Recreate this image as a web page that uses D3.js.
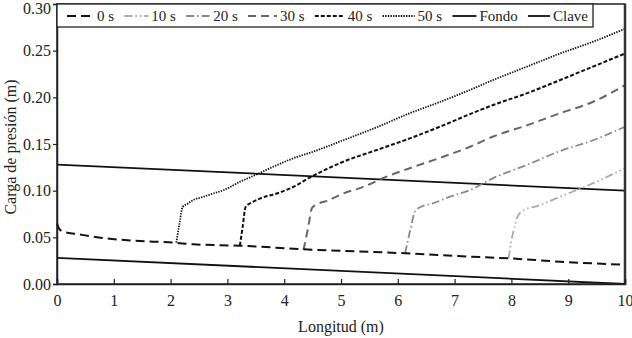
<!DOCTYPE html>
<html>
<head>
<meta charset="utf-8">
<script src="https://cdnjs.cloudflare.com/ajax/libs/d3/7.8.5/d3.min.js"></script>
<style>
  body { margin: 0; background: #fff; }
  text { font-family: "Liberation Serif", serif; fill: #222; }
</style>
</head>
<body>
<div id="chart"></div>
<script>
// values (x in m, y in m)
var seriesNames = ['0 s', '10 s', '20 s', '30 s', '40 s', '50 s', 'Fondo', 'Clave'];

var x0s = [0, 0.04, 0.11, 0.35, 0.76, 1.34, 2.05, 2.40, 3.22, 4.34, 6.13, 7.27, 7.94, 8.86, 10];
var y0s = [0.065, 0.059, 0.056, 0.0536, 0.0496, 0.0464, 0.0443, 0.0425, 0.041, 0.0372, 0.0329, 0.0293, 0.0275, 0.0239, 0.0206];

var x10s = [7.95, 8.03, 8.13, 8.25, 8.45, 8.86, 9.44, 10.0];
var y10s = [0.0275, 0.055, 0.0745, 0.080, 0.0835, 0.0936, 0.108, 0.124];

var x20s = [6.13, 6.22, 6.31, 6.42, 6.6, 6.92, 7.27, 7.68, 8.27, 8.86, 9.44, 10.0];
var y20s = [0.0329, 0.058, 0.0785, 0.083, 0.086, 0.0936, 0.1007, 0.1135, 0.1275, 0.1425, 0.154, 0.1685];

var x30s = [4.34, 4.42, 4.49, 4.58, 4.75, 5.04, 5.39, 5.80, 6.21, 6.80, 7.27, 7.68, 8.27, 8.86, 9.44, 10.0];
var y30s = [0.0364, 0.06, 0.0815, 0.0855, 0.089, 0.097, 0.104, 0.115, 0.124, 0.1364, 0.147, 0.158, 0.170, 0.183, 0.1953, 0.213];

var x40s = [3.22, 3.27, 3.32, 3.42, 3.57, 3.87, 4.16, 4.45, 5.04, 5.63, 6.21, 6.80, 7.27, 7.68, 8.27, 8.86, 9.44, 10.0];
var y40s = [0.041, 0.062, 0.0825, 0.087, 0.0915, 0.097, 0.104, 0.114, 0.131, 0.1436, 0.156, 0.170, 0.182, 0.1918, 0.2043, 0.2186, 0.233, 0.247];

var x50s = [2.10, 2.16, 2.21, 2.30, 2.40, 2.58, 2.75, 2.93, 3.05, 3.22, 3.40, 3.57, 3.81, 4.16, 4.52, 5.04, 5.63, 6.21, 6.68, 7.27, 7.68, 8.27, 8.86, 9.44, 10.0];
var y50s = [0.0443, 0.066, 0.0825, 0.086, 0.090, 0.0935, 0.097, 0.1005, 0.104, 0.1096, 0.1143, 0.119, 0.1257, 0.1347, 0.142, 0.154, 0.168, 0.183, 0.1936, 0.2079, 0.2186, 0.2328, 0.247, 0.2596, 0.2735];

var xPipe = [0, 10];
var yFondo = [0.028, 0.0];
var yClave = [0.128, 0.1];

var xTicks = [0, 1, 2, 3, 4, 5, 6, 7, 8, 9, 10];
var yTicks = [0, 0.05, 0.10, 0.15, 0.20, 0.25, 0.30];

var width = 632, height = 338;
var margin = {top: 4, right: 7, bottom: 54, left: 57};
var fontSize = 16;

var svg = d3.select('#chart').append('svg')
  .attr('width', width)
  .attr('height', height);

var x = d3.scaleLinear().domain([0, 10]).range([margin.left, width - margin.right]);
var y = d3.scaleLinear().domain([0, 0.30]).range([height - margin.bottom, margin.top]);

var styles = [
  {stroke: '#111', width: 2, dash: '9,5', sample: 27},
  {stroke: '#aaa', width: 1.8, dash: '8,3,1.5,3,1.5,3', sample: 24},
  {stroke: '#8a8a8a', width: 1.8, dash: '8,3,1.5,3', sample: 24},
  {stroke: '#666', width: 2, dash: '8,5', sample: 29},
  {stroke: '#111', width: 2, dash: '4,2', sample: 30},
  {stroke: '#111', width: 1.8, dash: '1.4,1.2', sample: 32},
  {stroke: '#111', width: 1.8, dash: null, sample: 24},
  {stroke: '#111', width: 1.8, dash: null, sample: 22}
];

var series = [
  [x0s, y0s], [x10s, y10s], [x20s, y20s], [x30s, y30s],
  [x40s, y40s], [x50s, y50s], [xPipe, yFondo], [xPipe, yClave]
].map(function(s, i) {
  return {name: seriesNames[i], style: styles[i], pts: s[0].map(function(v, j) { return [v, s[1][j]]; })};
});

var line = d3.line()
  .x(function(d) { return x(d[0]); })
  .y(function(d) { return y(d[1]); })
  .curve(d3.curveMonotoneX);

var plot = svg.append('g');

// draw later times first so the 0 s curve sits on top
[6, 7, 5, 4, 3, 2, 1, 0].forEach(function(i) {
  var s = series[i];
  plot.append('path')
    .attr('d', line(s.pts))
    .attr('fill', 'none')
    .attr('stroke', s.style.stroke)
    .attr('stroke-width', s.style.width)
    .attr('stroke-dasharray', s.style.dash);
});

// frame
svg.append('rect')
  .attr('x', x(0)).attr('y', y(0.30))
  .attr('width', x(10) - x(0)).attr('height', y(0) - y(0.30))
  .attr('fill', 'none').attr('stroke', '#222').attr('stroke-width', 1.5);
svg.append('line')
  .attr('x1', x(10)).attr('x2', x(10)).attr('y1', y(0.30)).attr('y2', y(0))
  .attr('stroke', '#333').attr('stroke-width', 2.5);

// x axis (ticks point inward)
var xAxis = svg.append('g')
  .attr('transform', 'translate(0,' + y(0) + ')')
  .call(d3.axisBottom(x).tickValues(xTicks).tickFormat(d3.format('d')).tickSize(-5).tickPadding(11));
xAxis.select('.domain').attr('stroke', '#222').attr('stroke-width', 1.5);
xAxis.selectAll('.tick line').attr('stroke', '#222').attr('stroke-width', 1.2);
xAxis.selectAll('.tick text').attr('font-family', '"Liberation Serif", serif').attr('font-size', fontSize).attr('fill', '#222');

// y axis (ticks point outward)
var yAxis = svg.append('g')
  .attr('transform', 'translate(' + x(0) + ',0)')
  .call(d3.axisLeft(y).tickValues(yTicks).tickFormat(d3.format('.2f')).tickSize(4).tickPadding(2));
yAxis.select('.domain').attr('stroke', '#222').attr('stroke-width', 1.5);
yAxis.selectAll('.tick line').attr('stroke', '#222').attr('stroke-width', 1.2);
yAxis.selectAll('.tick text').attr('font-family', '"Liberation Serif", serif').attr('font-size', fontSize).attr('fill', '#222');
// keep the top label inside the picture
yAxis.selectAll('.tick text').filter(function(d) { return d === 0.30; }).attr('dy', '0.62em');

svg.append('text')
  .attr('x', (x(0) + x(10)) / 2).attr('y', 332)
  .attr('text-anchor', 'middle').attr('font-size', fontSize)
  .text('Longitud (m)');

svg.append('text')
  .attr('transform', 'translate(16,' + (y(0.15) + 3) + ') rotate(-90)')
  .attr('text-anchor', 'middle').attr('font-size', fontSize)
  .text('Carga de presión (m)');

// legend: samples + labels, spread so the row ends near x = 588
var legend = svg.append('g');
legend.append('rect')
  .attr('x', x(0)).attr('y', y(0.30))
  .attr('width', 536).attr('height', 23)
  .attr('fill', '#fff').attr('stroke', '#222').attr('stroke-width', 1.3);

var labels = series.map(function(s) {
  return legend.append('text').attr('y', 21).attr('font-size', 15).text(s.name);
});
var widths = labels.map(function(t) { return t.node().getComputedTextLength(); });
var startX = 67, endX = 588, gapIn = 3;
var used = d3.sum(widths) + d3.sum(styles, function(s) { return s.sample; }) + gapIn * series.length;
var gapOut = (endX - startX - used) / (series.length - 1);
var cx = startX;
series.forEach(function(s, i) {
  legend.append('line')
    .attr('x1', cx).attr('x2', cx + s.style.sample).attr('y1', 16).attr('y2', 16)
    .attr('stroke', s.style.stroke)
    .attr('stroke-width', s.style.width)
    .attr('stroke-dasharray', s.style.dash);
  cx += s.style.sample + gapIn;
  labels[i].attr('x', cx);
  cx += widths[i] + gapOut;
});
</script>
</body>
</html>
